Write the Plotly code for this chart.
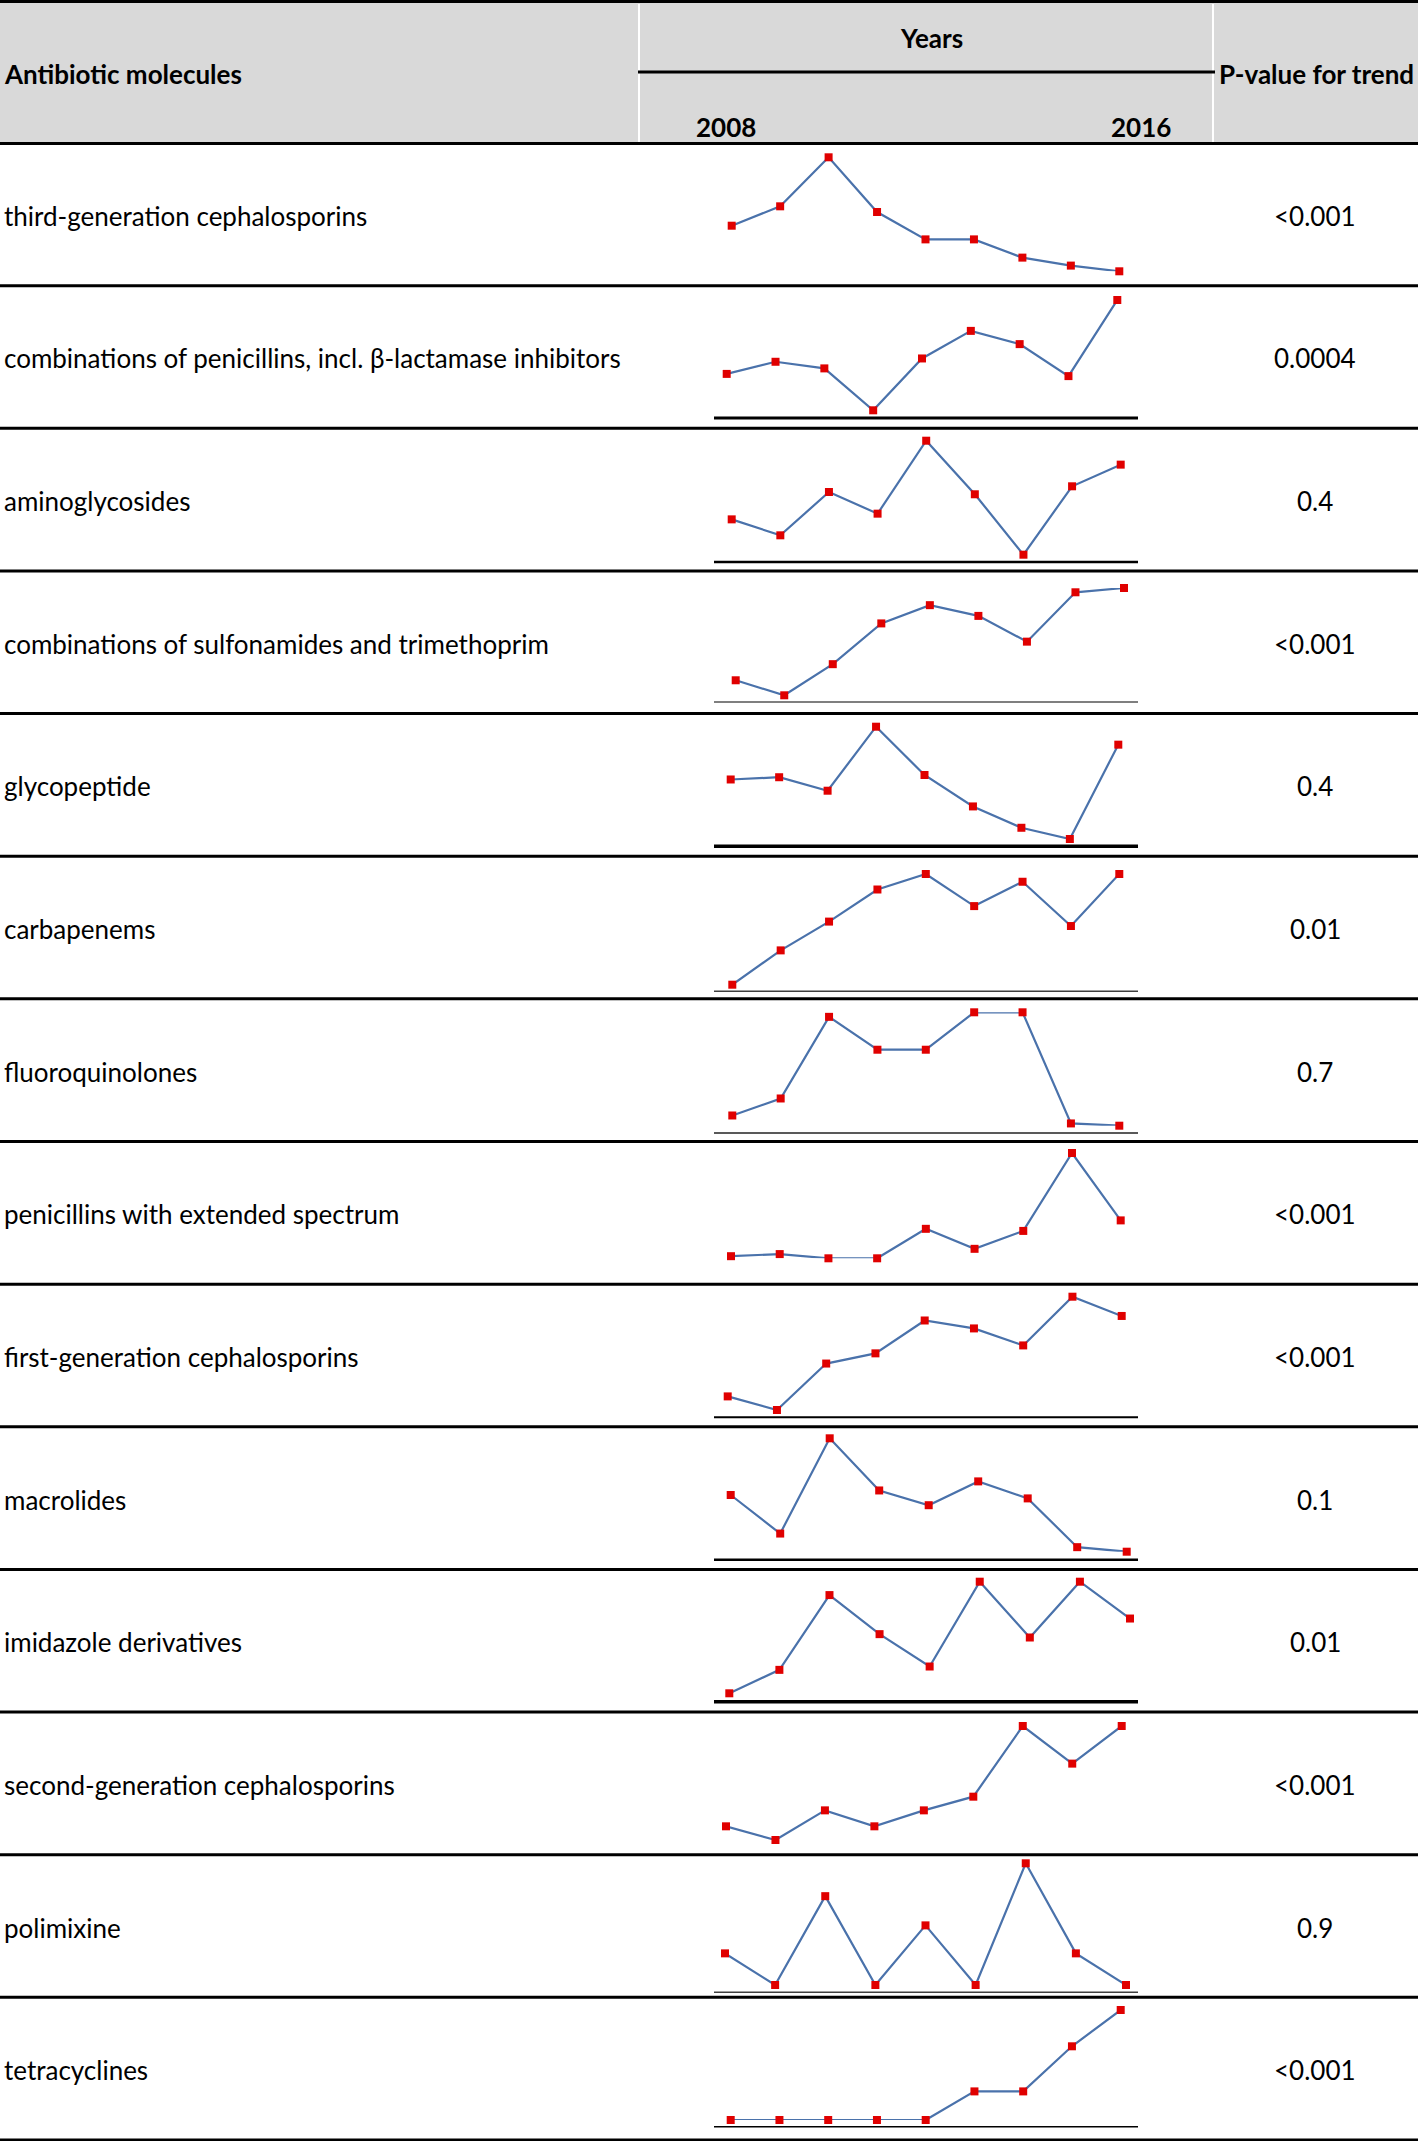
import plotly.graph_objects as go

W, H = 1418, 2141

# ---------------- data ----------------
years = [2008, 2009, 2010, 2011, 2012, 2013, 2014, 2015, 2016]
year_tick_labels = ["2008", "2016"]

categories = [
    "third-generation cephalosporins",
    "combinations of penicillins, incl. β-lactamase inhibitors",
    "aminoglycosides",
    "combinations of sulfonamides and trimethoprim",
    "glycopeptide",
    "carbapenems",
    "fluoroquinolones",
    "penicillins with extended spectrum",
    "first-generation cephalosporins",
    "macrolides",
    "imidazole derivatives",
    "second-generation cephalosporins",
    "polimixine",
    "tetracyclines",
]
p_values = ["<0.001", "0.0004", "0.4", "<0.001", "0.4", "0.01", "0.7",
            "<0.001", "<0.001", "0.1", "0.01", "<0.001", "0.9", "<0.001"]

# relative consumption index per molecule (min = 0, max = 100 within each sparkline)
third_gen = [40, 57, 100, 52, 28, 28, 12, 5, 0]
pen_combo = [33, 44, 38, 0, 47, 72, 60, 31, 100]
aminoglycosides = [31, 17, 55, 36, 100, 53, 0, 60, 79]
sulfa_tmp = [14, 0, 29, 67, 84, 74, 50, 96, 100]
glycopeptide = [53, 55, 43, 100, 57, 29, 10, 0, 84]
carbapenems = [0, 31, 57, 86, 100, 71, 93, 53, 100]
fluoroquinolones = [9, 24, 96, 67, 67, 100, 100, 2, 0]
pen_ext = [2, 4, 0, 0, 28, 9, 26, 100, 36]
first_gen = [12, 0, 41, 50, 79, 72, 57, 100, 83]
macrolides = [50, 16, 100, 54, 41, 62, 47, 4, 0]
imidazole = [0, 21, 88, 53, 24, 100, 50, 100, 67]
second_gen = [12, 0, 26, 12, 26, 38, 100, 67, 100]
polimixine = [26, 0, 73, 0, 49, 0, 100, 26, 0]
tetracyclines = [0, 0, 0, 0, 0, 26, 26, 67, 100]

series = [third_gen, pen_combo, aminoglycosides, sulfa_tmp, glycopeptide,
          carbapenems, fluoroquinolones, pen_ext, first_gen, macrolides,
          imidazole, second_gen, polimixine, tetracyclines]

# ---------------- layout (pixel positions) ----------------
# sparkline plotting band per row: (x_first, x_last, y_top, y_bottom)
spark_box = [
    (731.7, 1119.3, 157.3, 271.3),
    (726.7, 1117.3, 300.0, 410.3),
    (731.7, 1120.7, 440.7, 554.7),
    (735.7, 1124.0, 588.0, 695.3),
    (730.7, 1118.3, 726.7, 839.0),
    (732.3, 1119.3, 874.0, 984.7),
    (732.3, 1119.3, 1012.3, 1125.7),
    (731.0, 1120.7, 1153.0, 1258.3),
    (727.7, 1121.7, 1296.7, 1410.0),
    (730.7, 1126.7, 1438.3, 1551.7),
    (729.3, 1130.0, 1581.7, 1693.3),
    (726.0, 1121.7, 1726.0, 1840.0),
    (725.0, 1126.0, 1863.3, 1985.0),
    (730.7, 1120.7, 2010.0, 2120.0),
]
# baseline under each sparkline: (y, color, width) or None
baselines = [
    None,
    (418.0, "#000000", 3),
    (562.0, "#000000", 2.5),
    (702.0, "#7f7f7f", 2),
    (846.3, "#000000", 3.5),
    (991.3, "#404040", 1.5),
    (1133.0, "#595959", 2),
    None,
    (1417.3, "#000000", 2),
    (1559.7, "#000000", 2.5),
    (1701.7, "#000000", 3.5),
    None,
    (1992.3, "#404040", 1.5),
    (2126.7, "#000000", 1.5),
]

HEADER_BOTTOM = 143.0
ROW_H = (2140.0 - HEADER_BOTTOM) / 14

FONT = "Lato"
LABEL_SIZE = 26
HEAD_SIZE = 26

def px(x):
    return x / W

def py(y):
    return 1 - y / H

fig = go.Figure()
shapes = []
annotations = []

for i, vals in enumerate(series):
    x0, x1, yt, yb = spark_box[i]
    n = i + 1
    xa = "x" if n == 1 else f"x{n}"
    ya = "y" if n == 1 else f"y{n}"
    fig.add_trace(go.Scatter(
        x=years, y=vals, xaxis=xa, yaxis=ya, mode="lines+markers",
        line=dict(color="#4a72ab", width=2.2),
        marker=dict(symbol="square", size=8, color="#e00000"),
        cliponaxis=False, showlegend=False, hoverinfo="skip"))
    fig.layout[f"xaxis{'' if n == 1 else n}"] = dict(
        domain=[px(x0), px(x1)], range=[years[0], years[-1]],
        visible=False, fixedrange=True, anchor=ya)
    fig.layout[f"yaxis{'' if n == 1 else n}"] = dict(
        domain=[py(yb), py(yt)], range=[0, 100],
        visible=False, fixedrange=True, anchor=xa)

    # baseline
    b = baselines[i]
    if b is not None:
        shapes.append(dict(type="line", xref="paper", yref="paper",
                           x0=px(714), x1=px(1138), y0=py(b[0]), y1=py(b[0]),
                           line=dict(color=b[1], width=b[2])))

    # row text
    yc = HEADER_BOTTOM + ROW_H * (i + 0.5) + 1.5
    annotations.append(dict(text=categories[i], xref="paper", yref="paper",
                            x=px(2), y=py(yc), xanchor="left", yanchor="middle",
                            showarrow=False,
                            font=dict(family=FONT, size=LABEL_SIZE, color="#000")))
    annotations.append(dict(text=p_values[i], xref="paper", yref="paper",
                            x=px(1315), y=py(yc), xanchor="center", yanchor="middle",
                            showarrow=False,
                            font=dict(family=FONT, size=LABEL_SIZE, color="#000")))

    # row separator
    ysep = HEADER_BOTTOM + ROW_H * (i + 1)
    shapes.append(dict(type="line", xref="paper", yref="paper",
                       x0=0, x1=1, y0=py(ysep), y1=py(ysep),
                       line=dict(color="#000000", width=3)))

# header background
shapes.insert(0, dict(type="rect", xref="paper", yref="paper",
                      x0=0, x1=1, y0=py(HEADER_BOTTOM), y1=py(3),
                      fillcolor="#d9d9d9", line=dict(width=0), layer="below"))
for xv in (639, 1213):
    shapes.append(dict(type="line", xref="paper", yref="paper",
                       x0=px(xv), x1=px(xv), y0=py(HEADER_BOTTOM - 1), y1=py(4),
                       line=dict(color="#ffffff", width=2)))
shapes.append(dict(type="line", xref="paper", yref="paper",
                   x0=px(638), x1=px(1215), y0=py(72), y1=py(72),
                   line=dict(color="#000000", width=3)))
shapes.append(dict(type="line", xref="paper", yref="paper",
                   x0=0, x1=1, y0=py(1.5), y1=py(1.5),
                   line=dict(color="#000000", width=3)))
shapes.append(dict(type="line", xref="paper", yref="paper",
                   x0=0, x1=1, y0=py(HEADER_BOTTOM + 0.5), y1=py(HEADER_BOTTOM + 0.5),
                   line=dict(color="#000000", width=3)))

hfont = dict(family=FONT, size=HEAD_SIZE, color="#000")
annotations += [
    dict(text="<b>Antibiotic molecules</b>", x=px(2), y=py(74), xanchor="left"),
    dict(text="<b>Years</b>", x=px(931), y=py(38), xanchor="center"),
    dict(text="<b>P-value for trend</b>", x=px(1217), y=py(74), xanchor="left"),
    dict(text=f"<b>{year_tick_labels[0]}</b>", x=px(726), y=py(127), xanchor="center"),
    dict(text=f"<b>{year_tick_labels[1]}</b>", x=px(1141), y=py(127), xanchor="center"),
]
for a in annotations[-5:]:
    a.update(xref="paper", yref="paper", yanchor="middle", showarrow=False, font=hfont)

fig.update_layout(
    width=W, height=H, margin=dict(l=0, r=0, t=0, b=0),
    paper_bgcolor="#ffffff", plot_bgcolor="rgba(0,0,0,0)",
    shapes=shapes, annotations=annotations, showlegend=False,
)

fig.write_html("out.html", config={"displayModeBar": False},
               post_script="document.body.style.margin='0';document.body.style.padding='0';")
